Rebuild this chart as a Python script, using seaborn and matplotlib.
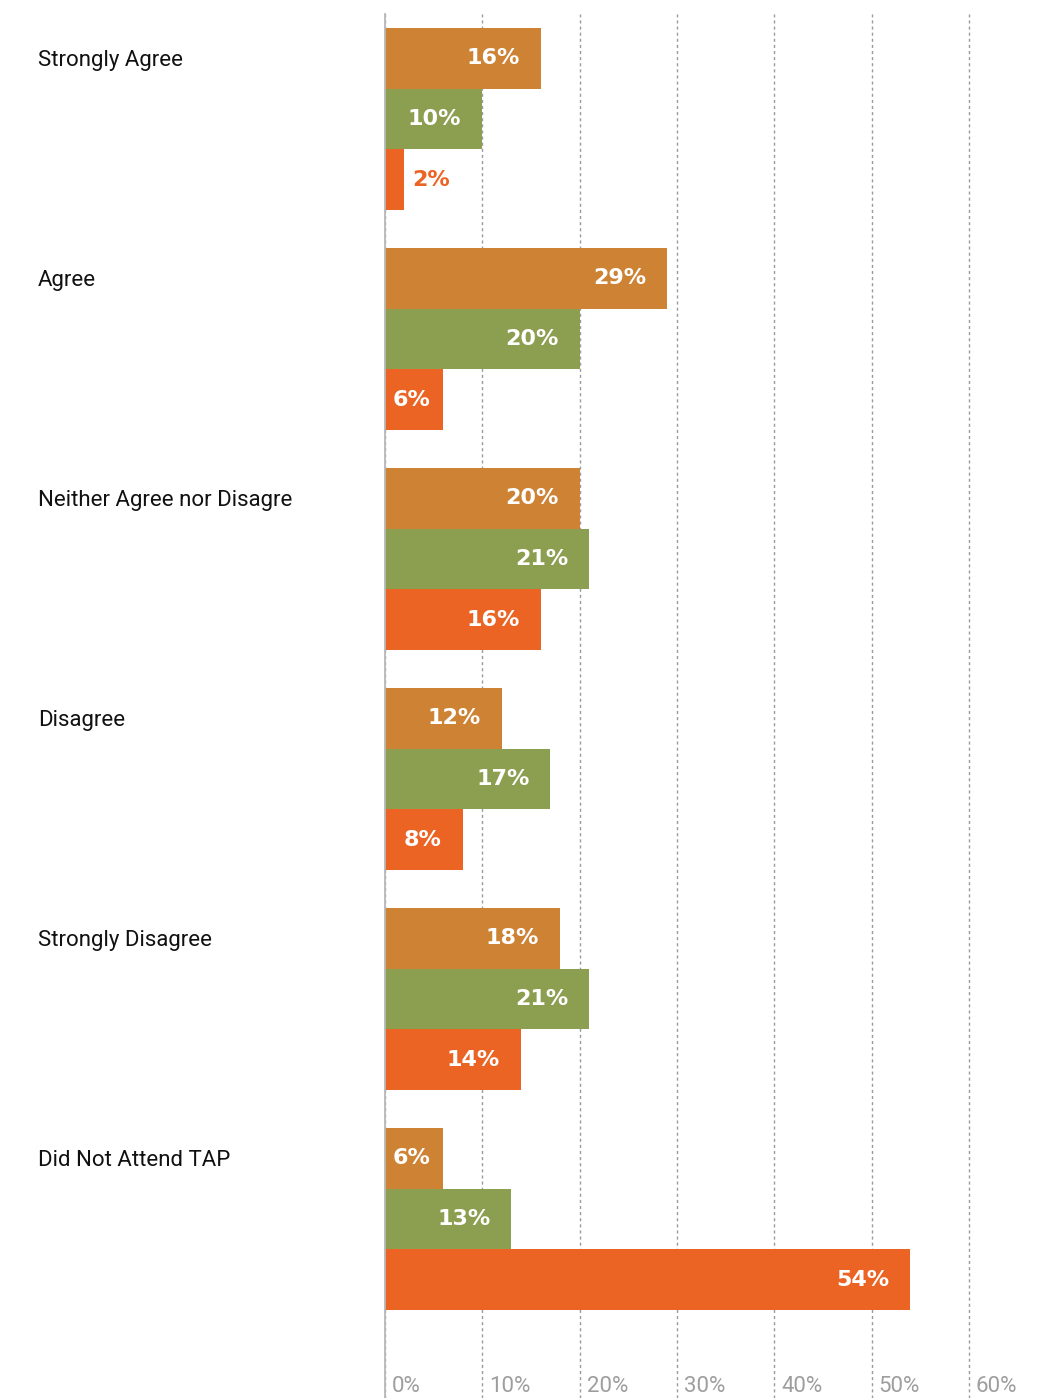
import matplotlib
matplotlib.use("Agg")
import matplotlib.pyplot as plt
import matplotlib.transforms as mtransforms
from matplotlib.patches import Rectangle
import pandas as pd
import seaborn as sns

# Survey responses and the share (%) of each respondent group
responses = [
    "Strongly Agree",
    "Agree",
    "Neither Agree nor Disagree",
    "Disagree",
    "Strongly Disagree",
    "Did Not Attend TAP",
]
groups = ["Group 1", "Group 2", "Group 3"]
group1_pct = [16, 29, 20, 12, 18, 6]
group2_pct = [10, 20, 21, 17, 21, 13]
group3_pct = [2, 6, 16, 8, 14, 54]
x_ticks = [0, 10, 20, 30, 40, 50, 60]
x_tick_labels = ["0%", "10%", "20%", "30%", "40%", "50%", "60%"]
colors = ["#CD8234", "#8C9F51", "#EB6423"]

series = [group1_pct, group2_pct, group3_pct]
df = pd.DataFrame({
    "response": responses * 3,
    "group": [g for g in groups for _ in responses],
    "value": group1_pct + group2_pct + group3_pct,
})

sns.set_theme(style="white")
plt.rcParams["font.family"] = ["Roboto", "DejaVu Sans"]

W, H = 1052, 1398
DPI = 100
fig = plt.figure(figsize=(W / DPI, H / DPI), dpi=DPI)

left_px, top_px = 385, 14
ax = fig.add_axes([left_px / W, 0, (W - left_px) / W, (H - top_px) / H])

bar_width = 0.83
sns.barplot(
    data=df, x="value", y="response", hue="group", orient="h",
    palette=colors, width=bar_width, saturation=1, ax=ax,
    legend=False, edgecolor="none", linewidth=0,
)

# scale: ~9.73 px per percentage point, 220 px per response group
px_per_pct = 9.73
ax.set_xlim(0, (W - left_px) / px_per_pct)
group_px = 220.0
top_units = (119 - top_px) / group_px
ax.set_ylim(-top_units + (H - top_px) / group_px, -top_units)

ax.set_xlabel("")
ax.set_ylabel("")
for side in ["top", "right", "bottom"]:
    ax.spines[side].set_visible(False)
ax.spines["left"].set_color("#b8b8b8")
ax.spines["left"].set_linewidth(1.3)

ax.set_axisbelow(True)
ax.xaxis.grid(True, linestyle=(0, (2.2, 2.2)), color="#9a9a9a", linewidth=1.0)
ax.yaxis.grid(False)

# x tick labels sit inside the plot, just right of each gridline
ax.set_xticks(x_ticks, x_tick_labels)
ax.tick_params(axis="x", length=0, pad=-16, labelsize=16,
               labelcolor="#9e9e9e")
shift = mtransforms.ScaledTranslation(7 / DPI, 0, fig.dpi_scale_trans)
for lbl in ax.get_xticklabels():
    lbl.set_horizontalalignment("left")
    lbl.set_transform(lbl.get_transform() + shift)

# response labels aligned with the first bar of each group, clipped on the right
hue_h = bar_width / 3
ax.set_yticks([i - hue_h for i in range(len(responses))], responses)
ax.tick_params(axis="y", length=0, pad=(left_px - 38) * 72 / DPI,
               labelsize=16, labelcolor="#111111")
clip_rect = Rectangle((0, 0), 292 / W, 1, transform=fig.transFigure)
for lbl in ax.get_yticklabels():
    lbl.set_horizontalalignment("left")
    lbl.set_clip_on(True)
    lbl.set_clip_path(clip_rect)

# value labels on the bars
label_kw = dict(textcoords="offset pixels", va="center", fontsize=16,
                fontweight="bold", family="DejaVu Sans")
for container, values, color in zip(ax.containers, series, colors):
    for bar, v in zip(container, values):
        yc = bar.get_y() + bar.get_height() / 2
        if v < 4:
            ax.annotate(f"{v}%", (v, yc), xytext=(8, 0), ha="left",
                        color=color, **label_kw)
        elif v < 7:
            ax.annotate(f"{v}%", (0, yc), xytext=(8, 0), ha="left",
                        color="white", **label_kw)
        else:
            ax.annotate(f"{v}%", (v, yc), xytext=(-21, 0), ha="right",
                        color="white", **label_kw)

fig.savefig("out.png", dpi=DPI, facecolor="white")
